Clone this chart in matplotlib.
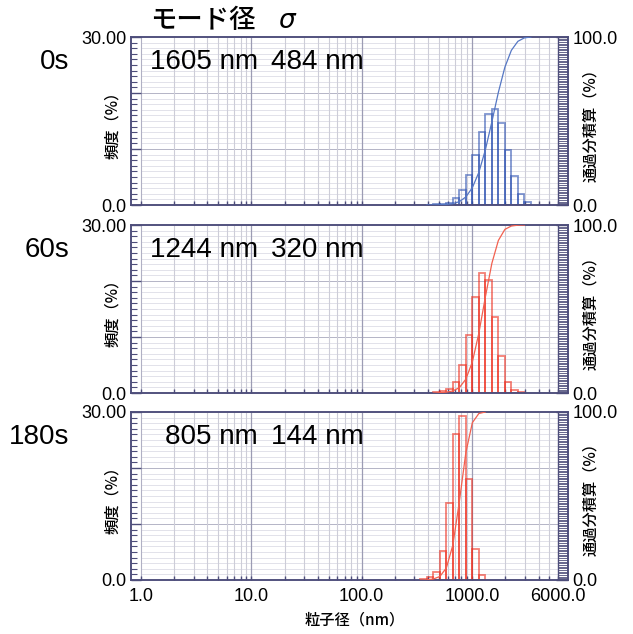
import numpy as np
import matplotlib
matplotlib.use("Agg")
import matplotlib.pyplot as plt
import matplotlib.transforms as mtransforms
from matplotlib.ticker import FixedLocator, NullFormatter

# bin edges (nm) and frequency (%) per bin
edges = [340, 389, 445, 510, 584, 669, 766, 877, 1005, 1151, 1318, 1510, 1729,
         1981, 2269, 2599, 2976, 3409]
freq_0s = [0.0, 0.05, 0.1, 0.2, 0.4, 1.2, 2.7, 5.4, 8.9, 13.0, 16.3, 17.1, 14.6,
           9.8, 5.2, 2.0, 0.5]
freq_60s = [0.0, 0.0, 0.2, 0.3, 0.7, 2.0, 5.0, 10.3, 17.1, 21.5, 20.1, 13.6, 6.6,
            2.0, 0.5, 0.1, 0.0]
freq_180s = [0.1, 0.5, 1.5, 5.1, 13.7, 26.0, 29.3, 18.0, 5.5, 0.9, 0.0, 0.0, 0.0,
             0.0, 0.0, 0.0, 0.0]

times = ["0s", "60s", "180s"]
mode_nm = ["1605 nm", "1244 nm", "805 nm"]
sigma_nm = ["484 nm", "320 nm", "144 nm"]
xtick_vals = [1, 10, 100, 1000, 6000]
xtick_labels = ["1.0", "10.0", "100.0", "1000.0", "6000.0"]

W, H = 633, 634
fig = plt.figure(figsize=(W / 100, H / 100), dpi=100)

LAT = ["Liberation Sans", "Noto Sans CJK JP"]
JP = ["Noto Sans CJK JP", "DejaVu Sans"]
frame = "#4d4d7a"

# pixel layout
ax_l, ax_r = 131, 568
x1_px, x6000_px = 141, 558
dec = (x6000_px - x1_px) / np.log10(6000)
xmin = 10 ** ((ax_l - x1_px) / dec)
xmax = 10 ** ((ax_r - x1_px) / dec)
panels = [(37, 205), (225, 393), (412, 580)]

minor_x = [m * 10 ** k for k in range(0, 4) for m in range(1, 10) if m * 10 ** k <= 6000]
decades = [1, 10, 100, 1000]

series = [freq_0s, freq_60s, freq_180s]
colors = ["#2a4fb0", "#ee2a1a", "#ee2a1a"]
curve_cols = ["#5577c4", "#f2604f", "#f2604f"]

for i, (top, bot) in enumerate(panels):
    ax = fig.add_axes([ax_l / W, 1 - bot / H, (ax_r - ax_l) / W, (bot - top) / H])
    ax.set_xscale("log")
    ax.set_xlim(xmin, xmax)
    ax.set_ylim(0, 30)
    ax.patch.set_facecolor("white")

    # grid
    for y in range(1, 30):
        c = "#b4b4c6" if y % 10 == 0 else "#e2e2ea"
        ax.hlines(y, 1, 6000, color=c, lw=0.7, zorder=1)
    for v in minor_x:
        if v in decades or v == 6000:
            continue
        ax.vlines(v, 0, 30, color="#cdcdd8", lw=0.8, zorder=1.5)
    for v in decades[1:]:
        ax.vlines(v, 0, 30, color="#9c9cb4", lw=0.9, zorder=1.5)
    ax.vlines(1, 0, 30, color="#b0b0c4", lw=0.8, zorder=1.5)
    ax.vlines(6000, 0, 30, color=frame, lw=1.0, zorder=3)

    # bars
    f = np.array(series[i])
    e = np.array(edges, dtype=float)
    keep = f > 0
    ax.bar(e[:-1][keep], f[keep], width=np.diff(e)[keep], align="edge",
           fill=False, edgecolor=colors[i], alpha=0.6, linewidth=1.3, zorder=2)

    # ticks
    ax.set_xticks(xtick_vals)
    ax.xaxis.set_minor_locator(FixedLocator([v for v in minor_x if v not in xtick_vals]))
    ax.xaxis.set_minor_formatter(NullFormatter())
    if i == 2:
        ax.set_xticklabels(xtick_labels, fontsize=13, family=LAT)
        # the instrument prints its labels slightly left of the ticks
        for v, lab in zip(xtick_vals, ax.get_xticklabels()):
            dx = -10 * np.log10(v) / np.log10(6000) / 100
            lab.set_transform(lab.get_transform() +
                              mtransforms.ScaledTranslation(dx, 0, fig.dpi_scale_trans))
    else:
        ax.set_xticklabels([])
    ax.tick_params(axis="x", which="both", direction="in", length=3, width=1,
                   color=frame, pad=6)
    ax.set_yticks([0, 10, 20, 30])
    ax.set_yticklabels(["0.0", "", "", "30.00"], fontsize=13, family=LAT)
    ax.yaxis.set_minor_locator(FixedLocator(np.arange(0, 31, 1)))
    ax.tick_params(axis="y", which="major", direction="in", length=7, width=1,
                   color=frame, pad=3)
    ax.tick_params(axis="y", which="minor", direction="in", length=4, width=0.8,
                   color=frame)
    for s in ax.spines.values():
        s.set_color(frame)
        s.set_linewidth(1.1)

    # cumulative on the right axis
    ax2 = ax.twinx()
    ax2.set_ylim(0, 100)
    cum = np.cumsum(f) / f.sum() * 100
    last = np.nonzero(f)[0][-1]
    first = np.nonzero(f)[0][0]
    cx = np.concatenate([[e[first]], e[first + 1:last + 2]])
    cy = np.concatenate([[0], cum[first:last + 1]])
    ax2.plot(cx, cy, color=curve_cols[i], lw=0.9, zorder=3)
    ax2.set_yticks([0, 100])
    ax2.set_yticklabels(["0.0", "100.0"], fontsize=13, family=LAT)
    ax2.yaxis.set_minor_locator(FixedLocator(np.arange(0, 101, 1)))
    ax2.tick_params(axis="y", which="major", direction="in", length=9, width=1,
                    color=frame, pad=3)
    ax2.tick_params(axis="y", which="minor", direction="in", length=7, width=0.6,
                    color=frame)
    for s in ax2.spines.values():
        s.set_color(frame)
        s.set_linewidth(1.1)

    # labels
    fig.text(113 / W, 1 - (top + bot) / 2 / H, "頻度（%）", rotation=90,
             ha="center", va="center", fontsize=11, family=JP, weight="medium")
    fig.text(591 / W, 1 - (top + bot) / 2 / H, "通過分積算（%）", rotation=90,
             ha="center", va="center", fontsize=11, family=JP, weight="medium")
    fig.text(69 / W, 1 - (top + 25) / H, times[i], ha="right", va="center",
             fontsize=20, family=LAT)
    fig.text(258 / W, 1 - (top + 25) / H, mode_nm[i], ha="right", va="center",
             fontsize=20, family=LAT)
    fig.text(271 / W, 1 - (top + 25) / H, sigma_nm[i], ha="left", va="center",
             fontsize=20, family=LAT)

fig.text(150 / W, 1 - 21 / H, "モード径", ha="left", va="center", fontsize=19,
         family=JP, weight="medium")
fig.text(278 / W, 1 - 21 / H, "σ", ha="left", va="center", fontsize=19,
         family="DejaVu Sans", style="italic")
fig.text(355 / W, 1 - 620 / H, "粒子径（nm）", ha="center", va="center",
         fontsize=11, family=JP, weight="medium")

fig.savefig("out.png", dpi=100)
